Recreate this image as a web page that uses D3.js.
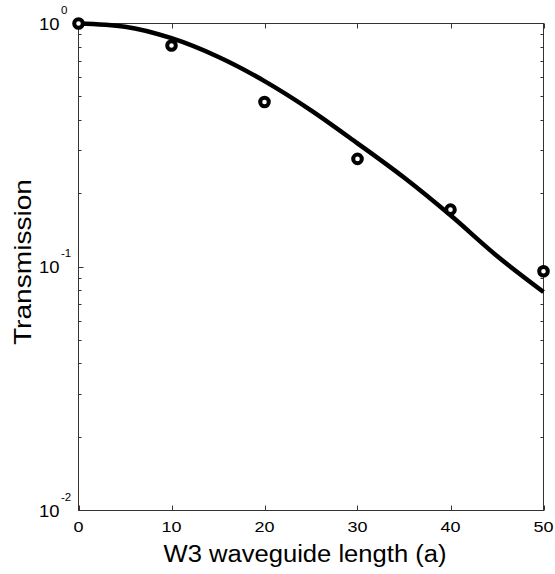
<!DOCTYPE html>
<html>
<head>
<meta charset="utf-8">
<script src="https://cdn.jsdelivr.net/npm/d3@7"></script>
<style>
  body { margin: 0; background: #fff; }
  svg { display: block; font-family: "Liberation Sans", Arial, sans-serif; }
</style>
</head>
<body>
<svg width="555" height="574"></svg>
<script>
// measured points (circles)
var lengths = [0, 10, 20, 30, 40, 50];
var measured = [1.0, 0.812, 0.476, 0.278, 0.172, 0.096];

// simulated curve
var curveX = [0, 5, 10, 15, 20, 25, 30, 35, 40, 45, 50];
var curveY = [1.0, 0.97, 0.87, 0.73, 0.58, 0.44, 0.322, 0.233, 0.163, 0.111, 0.079];

var xTicks = [0, 10, 20, 30, 40, 50];
var yTicks = [1, 0.1, 0.01];
var yExponents = ["0", "-1", "-2"];

var svg = d3.select("svg");
// plot box edges (top/left are window globals, so use other names)
var plotL = 78.5, plotR = 543.5, plotT = 23.5, plotB = 510.5;

var x = d3.scaleLinear().domain([0, 50]).range([plotL, plotR]);
var y = d3.scaleLog().domain([0.01, 1]).range([plotB, plotT]);

var axisColor = "#333";

// box
svg.append("rect")
    .attr("x", plotL).attr("y", plotT)
    .attr("width", plotR - plotL).attr("height", plotB - plotT)
    .attr("fill", "none").attr("stroke", axisColor).attr("stroke-width", 1);

// x ticks (inside, bottom and top)
var g = svg.append("g").attr("stroke", axisColor).attr("stroke-width", 1);
xTicks.forEach(function (t) {
    var xx = Math.round(x(t)) + 0.5;
    g.append("line").attr("x1", xx).attr("x2", xx).attr("y1", plotB).attr("y2", plotB - 5);
    g.append("line").attr("x1", xx).attr("x2", xx).attr("y1", plotT).attr("y2", plotT + 5);
});

// y ticks, major and minor (log)
var minor = [];
[0.01, 0.1].forEach(function (d) {
    for (var k = 2; k <= 9; k++) minor.push(d * k);
});
yTicks.forEach(function (t) {
    var yy = Math.round(y(t) - 0.5) + 0.5;
    g.append("line").attr("x1", plotL).attr("x2", plotL + 5).attr("y1", yy).attr("y2", yy);
    g.append("line").attr("x1", plotR).attr("x2", plotR - 5).attr("y1", yy).attr("y2", yy);
});
minor.forEach(function (t) {
    var yy = Math.round(y(t) - 0.5) + 0.5;
    g.append("line").attr("x1", plotL).attr("x2", plotL + 3).attr("y1", yy).attr("y2", yy);
    g.append("line").attr("x1", plotR).attr("x2", plotR - 3).attr("y1", yy).attr("y2", yy);
});

// x tick labels (the original font is wide, so stretch a bit)
svg.append("g").selectAll("text")
    .data(xTicks)
    .enter().append("text")
    .attr("x", (d) => x(d))
    .attr("y", 532)
    .attr("text-anchor", "middle")
    .attr("font-size", 14.5)
    .attr("textLength", (d) => String(d).length * 10)
    .attr("lengthAdjust", "spacingAndGlyphs")
    .attr("fill", "#000")
    .text((d) => d);

// y tick labels: 10 with exponent
var yl = svg.append("g");
yTicks.forEach(function (t, i) {
    yl.append("text")
        .attr("x", 39).attr("y", y(t) + 6)
        .attr("font-size", 17)
        .attr("textLength", 20.5)
        .attr("lengthAdjust", "spacingAndGlyphs")
        .text("10");
    yl.append("text")
        .attr("x", 61).attr("y", y(t) - 10)
        .attr("font-size", 11.5)
        .text(yExponents[i]);
});

// axis titles
svg.append("text")
    .attr("x", 305).attr("y", 562)
    .attr("text-anchor", "middle")
    .attr("font-size", 23)
    .attr("textLength", 283)
    .attr("lengthAdjust", "spacingAndGlyphs")
    .text("W3 waveguide length (a)");

svg.append("text")
    .attr("transform", "translate(30.5,262) rotate(-90)")
    .attr("text-anchor", "middle")
    .attr("font-size", 24)
    .attr("textLength", 166)
    .attr("lengthAdjust", "spacingAndGlyphs")
    .text("Transmission");

// simulated curve
var line = d3.line()
    .x((d, i) => x(curveX[i]))
    .y((d) => y(d))
    .curve(d3.curveMonotoneX);

svg.append("path")
    .attr("d", line(curveY))
    .attr("fill", "none")
    .attr("stroke", "#000")
    .attr("stroke-width", 4.5)
    .attr("stroke-linejoin", "round");

// measured circles
svg.append("g").selectAll("circle")
    .data(measured)
    .enter().append("circle")
    .attr("cx", (d, i) => x(lengths[i]))
    .attr("cy", (d) => y(d))
    .attr("r", 4.3)
    .attr("fill", "#fff")
    .attr("stroke", "#000")
    .attr("stroke-width", 4);
</script>
</body>
</html>
